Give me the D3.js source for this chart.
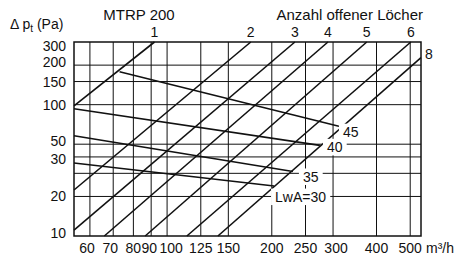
<!DOCTYPE html>
<html>
<head>
<meta charset="utf-8">
<script src="https://d3js.org/d3.v7.min.js"></script>
<style>
  body { margin: 0; background: #fff; }
  svg { font-family: "Liberation Sans", Arial, Helvetica, sans-serif; fill: #111; }
</style>
</head>
<body>
<div id="chart"></div>
<script>
    // x: volume flow (m³/h), y: total pressure drop (Pa), both log scaled
    const xTicks = [60, 70, 80, 90, 100, 125, 150, 200, 250, 300, 400, 500];
    const yGrid = [20, 30, 40, 50, 100, 150, 200];
    const yTickVals = [10, 20, 40, 50, 100, 150, 200, 300];
    const yTickText = ["10", "20", "30", "50", "100", "150", "200", "300"];

    // number of open holes: each line is [start, end] as [m³/h, Pa]
    const holeNames = ["1", "2", "3", "4", "5", "6", "8"];
    const holeLines = [
        [[54, 98], [92, 300]],
        [[54, 22.4], [174, 300]],
        [[54, 11.1], [233, 300]],
        [[66, 10], [290, 300]],
        [[86.5, 10], [375, 300]],
        [[114, 10], [502, 300]],
        [[140, 10], [537, 228]]
    ];

    // sound power level lines
    const lwaNames = ["45", "40", "35", "LwA=30"];
    const lwaLines = [
        [[73, 178], [316, 68]],
        [[54, 93], [275, 49]],
        [[54, 58], [230, 31]],
        [[54, 36], [203, 24]]
    ];

    const width = 467, height = 258;
    const margin = {top: 42, right: 46, bottom: 22, left: 74};
    const W = width - margin.left - margin.right;
    const H = height - margin.top - margin.bottom;

    const svg = d3.select("#chart").append("svg")
        .attr("width", width)
        .attr("height", height);

    const x = d3.scaleLog().domain([54, 537]).range([0, W]);
    const y = d3.scaleLog().domain([10, 300]).range([H, 0]);

    const g = svg.append("g")
        .attr("transform", `translate(${margin.left},${margin.top})`);

    // grid
    g.selectAll(".vgrid").data(xTicks).enter().append("line")
        .attr("x1", d => x(d)).attr("x2", d => x(d))
        .attr("y1", 0).attr("y2", H)
        .attr("stroke", "#111").attr("stroke-width", 1);
    g.selectAll(".hgrid").data(yGrid).enter().append("line")
        .attr("y1", d => y(d)).attr("y2", d => y(d))
        .attr("x1", 0).attr("x2", W)
        .attr("stroke", "#111").attr("stroke-width", 1);

    // LwA labels (white boxes cut the grid)
    const labOff = {"45": [2, 10.5], "40": [7, 7], "35": [10, 10.5], "LwA=30": [1, 16]};
    const labG = g.append("g");
    const labs = labG.selectAll("text").data(lwaLines).enter().append("text")
        .attr("x", (d, i) => x(d[1][0]) + labOff[lwaNames[i]][0])
        .attr("y", (d, i) => y(d[1][1]) + labOff[lwaNames[i]][1])
        .attr("font-size", 14)
        .text((d, i) => lwaNames[i]);
    labs.each(function() {
        const b = this.getBBox();
        labG.insert("rect", "text")
            .attr("x", b.x - 4).attr("y", b.y - 0.5)
            .attr("width", b.width + 8).attr("height", b.height + 0.5)
            .attr("fill", "#fff");
    });

    const line = d3.line().x(d => x(d[0])).y(d => y(d[1]));

    g.selectAll(".hole").data(holeLines).enter().append("path")
        .attr("d", line)
        .attr("fill", "none").attr("stroke", "#111").attr("stroke-width", 1.6);
    g.selectAll(".lwa").data(lwaLines).enter().append("path")
        .attr("d", line)
        .attr("fill", "none").attr("stroke", "#111").attr("stroke-width", 1.6);

    labG.raise();

    // border
    g.append("rect")
        .attr("x", 0).attr("y", 0).attr("width", W).attr("height", H)
        .attr("fill", "none").attr("stroke", "#111").attr("stroke-width", 1.5);

    // x tick labels
    const xNudge = {60: -3, 70: -3, 90: -2, 100: 4, 300: 3};
    g.selectAll(".xl").data(xTicks).enter().append("text")
        .attr("x", d => x(d) + (xNudge[d] || 0))
        .attr("y", H + 17)
        .attr("text-anchor", "middle")
        .attr("font-size", 14)
        .text(d => d);
    g.append("text")
        .attr("x", W + 5).attr("y", H + 17)
        .attr("font-size", 14)
        .text("m³/h");

    // y tick labels
    const yNudge = {"300": 4, "200": -3.5, "50": -3, "10": -3, "30": 2};
    g.selectAll(".yl").data(yTickVals).enter().append("text")
        .attr("x", -8)
        .attr("y", (d, i) => y(d) + 5 + (yNudge[yTickText[i]] || 0))
        .attr("text-anchor", "end")
        .attr("font-size", 14)
        .text((d, i) => yTickText[i]);

    // hole count labels
    g.selectAll(".hl").data(holeLines.slice(0, 6)).enter().append("text")
        .attr("x", d => x(d[1][0]))
        .attr("y", -5)
        .attr("text-anchor", "middle")
        .attr("font-size", 14)
        .text((d, i) => holeNames[i]);
    const last = holeLines[6][1];
    g.append("text")
        .attr("x", x(last[0]) + 4).attr("y", y(last[1]) + 1)
        .attr("font-size", 14)
        .text(holeNames[6]);

    // titles
    svg.append("text")
        .attr("x", 139).attr("y", 19.5)
        .attr("text-anchor", "middle")
        .attr("font-size", 15)
        .text("MTRP 200");
    svg.append("text")
        .attr("x", 423).attr("y", 19.5)
        .attr("text-anchor", "end")
        .attr("font-size", 15)
        .text("Anzahl offener Löcher");
    const yt = svg.append("text")
        .attr("x", 10).attr("y", 29)
        .attr("font-size", 14);
    yt.append("tspan").text("Δ p");
    yt.append("tspan").attr("font-size", 10).attr("dy", 3).text("t");
    yt.append("tspan").attr("dy", -3).text(" (Pa)");
</script>
</body>
</html>
